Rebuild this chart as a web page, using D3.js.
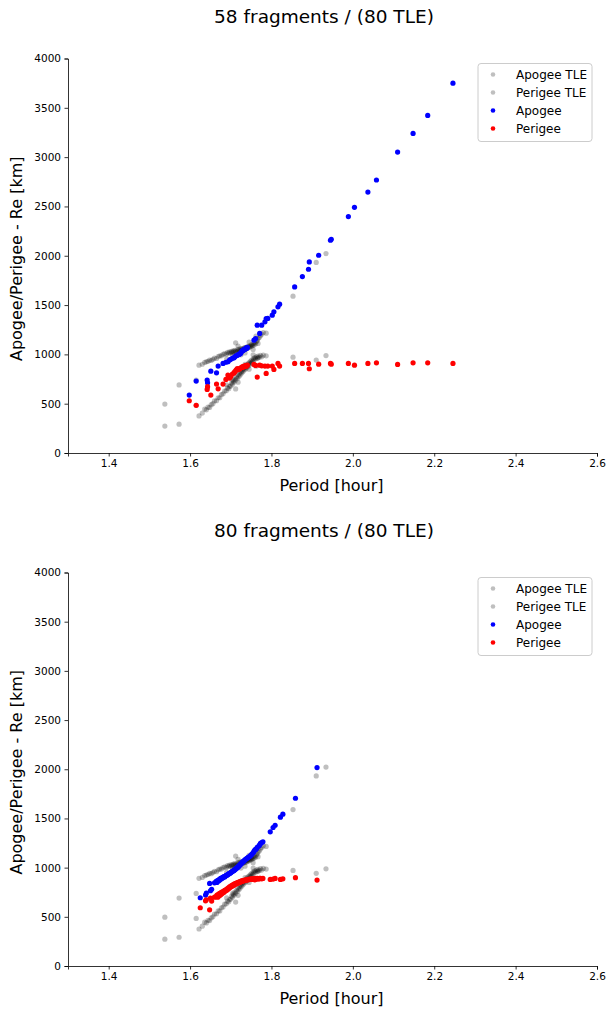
<!DOCTYPE html>
<html>
<head>
<meta charset="utf-8">
<script src="https://cdn.jsdelivr.net/npm/d3@7"></script>
<style>
  body { margin: 0; background: #fff; }
  svg { font-family: "DejaVu Sans", sans-serif; }
</style>
</head>
<body>
<svg id="chart" width="607" height="1010"></svg>
<script>
// ---------- data ----------
const xTicks = [1.4, 1.6, 1.8, 2.0, 2.2, 2.4, 2.6];
const yTicks = [0, 500, 1000, 1500, 2000, 2500, 3000, 3500, 4000];
const legendLabels = ["Apogee TLE", "Perigee TLE", "Apogee", "Perigee"];
const titles = ["58 fragments / (80 TLE)", "80 fragments / (80 TLE)"];

// TLE objects (80)
const tlePeriod = [1.538,1.573,1.615,1.622,1.712,1.767,1.787,1.853,1.910,1.934,
  1.630,1.636,1.640,1.644,1.648,1.652,1.656,1.660,1.665,1.669,
  1.673,1.677,1.681,1.685,1.689,1.692,1.695,1.697,1.700,1.702,
  1.704,1.706,1.708,1.710,1.712,1.714,1.716,1.718,1.720,1.722,
  1.723,1.725,1.727,1.728,1.730,1.731,1.733,1.734,1.736,1.737,
  1.739,1.740,1.742,1.743,1.745,1.746,1.748,1.749,1.751,1.752,
  1.754,1.756,1.757,1.759,1.761,1.763,1.765,1.767,1.770,1.773,
  1.776,1.780,1.745,1.725,1.735,1.755,1.762,1.718,1.690,1.705];
const tleApogee = [496,690,738,891,1117,1111,1215,1590,1932,2022,
  900,918,925,930,942,938,950,962,958,978,
  985,985,1000,1008,1002,1020,1012,1025,1015,1030,
  1020,1035,1025,1040,1030,1022,1045,1032,1050,1036,
  1055,1042,1058,1046,1045,1062,1050,1068,1055,1072,
  1058,1075,1065,1082,1070,1085,1078,1095,1082,1100,
  1090,1110,1095,1118,1105,1128,1140,1160,1170,1190,
  1205,1222,1125,995,1015,1050,1185,1085,955,990];
const tlePerigee = [273,292,484,376,650,965,985,972,942,988,
  405,445,438,465,462,490,500,528,530,560,
  560,592,600,628,632,660,652,675,680,710,
  698,728,718,748,738,770,758,790,775,808,
  792,822,810,840,826,855,842,868,852,882,
  865,895,878,908,890,918,905,932,915,945,
  930,958,945,968,955,975,960,982,970,990,
  975,992,850,862,898,995,880,718,692,742];

// Model: 58 fragments
const frag58Period = [1.598,1.615,1.642,1.643,1.651,1.665,1.669,1.681,1.688,1.693,
  1.697,1.700,1.704,1.708,1.710,1.713,1.716,1.720,1.724,1.727,
  1.730,1.733,1.736,1.738,1.741,1.718,1.722,1.728,1.732,1.735,
  1.739,1.757,1.761,1.765,1.771,1.776,1.784,1.787,1.791,1.802,
  1.806,1.816,1.820,1.857,1.876,1.891,1.893,1.916,1.945,1.947,
  1.989,2.004,2.037,2.058,2.110,2.148,2.184,2.246];
const frag58Apogee = [587,729,739,712,830,813,881,908,920,925,
  942,950,960,965,975,985,990,1000,1010,1028,
  1040,1050,1056,1066,1070,995,1005,1035,1045,1052,
  1060,1144,1160,1296,1212,1296,1330,1364,1365,1397,
  1431,1482,1509,1684,1789,1863,1937,2005,2157,2167,
  2397,2491,2646,2768,3051,3240,3423,3750];
const frag58Perigee = [530,483,645,672,587,699,651,699,746,790,
  760,775,800,812,825,840,857,848,862,870,
  876,880,885,880,890,845,855,868,872,878,
  886,898,888,770,890,884,881,807,881,881,
  847,908,881,908,908,908,854,901,908,901,
  908,891,908,914,898,914,914,908];

// Model: 80 fragments
const frag80Period = [1.625,1.638,1.640,1.648,1.650,1.653,1.660,
  1.664,1.666,1.668,1.670,1.672,1.673,1.675,1.676,1.678,1.679,1.681,
  1.682,1.684,1.685,1.687,1.688,1.690,1.691,1.693,1.694,1.696,
  1.697,1.699,1.700,1.702,1.703,1.705,1.706,1.708,1.709,1.711,
  1.712,1.714,1.715,1.717,1.718,1.720,1.721,1.723,1.724,1.726,
  1.727,1.729,1.730,1.732,1.734,1.736,1.738,1.740,1.742,1.744,
  1.746,1.748,1.750,1.752,1.755,1.757,1.759,1.761,1.763,1.765,
  1.769,1.771,1.773,1.776,
  1.779,1.797,1.804,1.809,1.822,1.828,1.859,1.912];
const frag80Apogee = [694,721,742,839,765,780,845,
  860,850,870,865,880,875,890,885,895,892,900,
  905,910,905,915,920,925,922,930,935,938,
  942,945,950,955,960,962,968,972,978,980,
  988,992,998,1002,1010,1015,1022,1030,1035,1042,
  1048,1055,1060,1066,1076,1082,1090,1095,1102,1108,
  1112,1120,1128,1138,1150,1165,1178,1185,1192,1205,
  1220,1232,1246,1255,
  1262,1364,1408,1431,1513,1543,1705,2017];
const frag80Perigee = [592,663,673,571,690,660,700,
  705,720,700,730,715,738,725,745,735,755,745,
  760,752,770,765,775,770,785,780,795,790,
  805,800,812,808,820,815,828,822,835,830,
  840,836,846,842,850,848,855,852,860,858,
  865,862,868,866,872,870,876,874,880,878,
  884,882,886,880,888,885,876,890,884,892,
  884,890,891,886,
  890,880,884,890,880,886,898,873];

const panels = [
  {title: titles[0], period: frag58Period, apogee: frag58Apogee, perigee: frag58Perigee, top: 58.5, bottom: 453},
  {title: titles[1], period: frag80Period, apogee: frag80Apogee, perigee: frag80Perigee, top: 572.5, bottom: 966}
];

// ---------- drawing ----------
const svg = d3.select("#chart");
const left = 68, right = 597;
const tleColor = "#000";
const tleOpacity = 0.25;
const R = 2.6;

panels.forEach(p => {
  const g = svg.append("g");
  const x = d3.scaleLinear().domain([1.3, 2.6]).range([left, right]);
  const y = d3.scaleLinear().domain([0, 4000]).range([p.bottom, p.top]);

  // title
  g.append("text").attr("x", 324).attr("y", p.top - 36)
    .attr("text-anchor", "middle").attr("font-size", 18.5).text(p.title);

  // axes
  const xAxis = d3.axisBottom(x).tickValues(xTicks).tickFormat(d3.format(".1f")).tickSizeOuter(0).tickSize(3.5).tickPadding(3.5);
  const yAxis = d3.axisLeft(y).tickValues(yTicks).tickFormat(d3.format("d")).tickSizeOuter(0).tickSize(3.5).tickPadding(3.5);
  const gx = g.append("g").attr("transform", `translate(0,${p.bottom})`).call(xAxis);
  const gy = g.append("g").attr("transform", `translate(${left},0)`).call(yAxis);
  [gx, gy].forEach(a => {
    a.selectAll("text").attr("font-size", 10.5).attr("fill", "#000").attr("font-family", "DejaVu Sans");
    a.selectAll("line").attr("stroke", "#000").attr("stroke-width", 0.8);
    a.select(".domain").attr("stroke", "#000").attr("stroke-width", 0.8);
  });

  // axis labels
  g.append("text").attr("x", (left + right) / 2 - 1).attr("y", p.bottom + 38)
    .attr("text-anchor", "middle").attr("font-size", 16).text("Period [hour]");
  g.append("text")
    .attr("transform", `translate(22,${(p.top + p.bottom) / 2 + 3}) rotate(-90)`)
    .attr("text-anchor", "middle").attr("font-size", 16).text("Apogee/Perigee - Re [km]");

  // TLE points
  g.append("g").selectAll("circle").data(tlePeriod.map((t, i) => [t, tleApogee[i]]))
    .join("circle").attr("cx", d => x(d[0])).attr("cy", d => y(d[1])).attr("r", R)
    .attr("fill", tleColor).attr("fill-opacity", tleOpacity);
  g.append("g").selectAll("circle").data(tlePeriod.map((t, i) => [t, tlePerigee[i]]))
    .join("circle").attr("cx", d => x(d[0])).attr("cy", d => y(d[1])).attr("r", R)
    .attr("fill", tleColor).attr("fill-opacity", tleOpacity);

  // model points
  g.append("g").selectAll("circle").data(p.period.map((t, i) => [t, p.apogee[i]]))
    .join("circle").attr("cx", d => x(d[0])).attr("cy", d => y(d[1])).attr("r", R)
    .attr("fill", "#0000ff");
  g.append("g").selectAll("circle").data(p.period.map((t, i) => [t, p.perigee[i]]))
    .join("circle").attr("cx", d => x(d[0])).attr("cy", d => y(d[1])).attr("r", R)
    .attr("fill", "#ff0000");

  // legend
  const lg = g.append("g").attr("transform", `translate(478,${p.top + 5})`);
  lg.append("rect").attr("x", 0).attr("y", 0).attr("width", 114).attr("height", 78)
    .attr("rx", 3).attr("fill", "#fff").attr("fill-opacity", 0.8)
    .attr("stroke", "#ccc").attr("stroke-width", 1);
  const legColors = [[tleColor, tleOpacity], [tleColor, tleOpacity], ["#0000ff", 1], ["#ff0000", 1]];
  legendLabels.forEach((lab, i) => {
    const yy = 11 + i * 18;
    lg.append("circle").attr("cx", 15).attr("cy", yy).attr("r", 2.3)
      .attr("fill", legColors[i][0]).attr("fill-opacity", legColors[i][1]);
    lg.append("text").attr("x", 38).attr("y", yy + 4).attr("font-size", 12).text(lab);
  });
});
</script>
</body>
</html>
